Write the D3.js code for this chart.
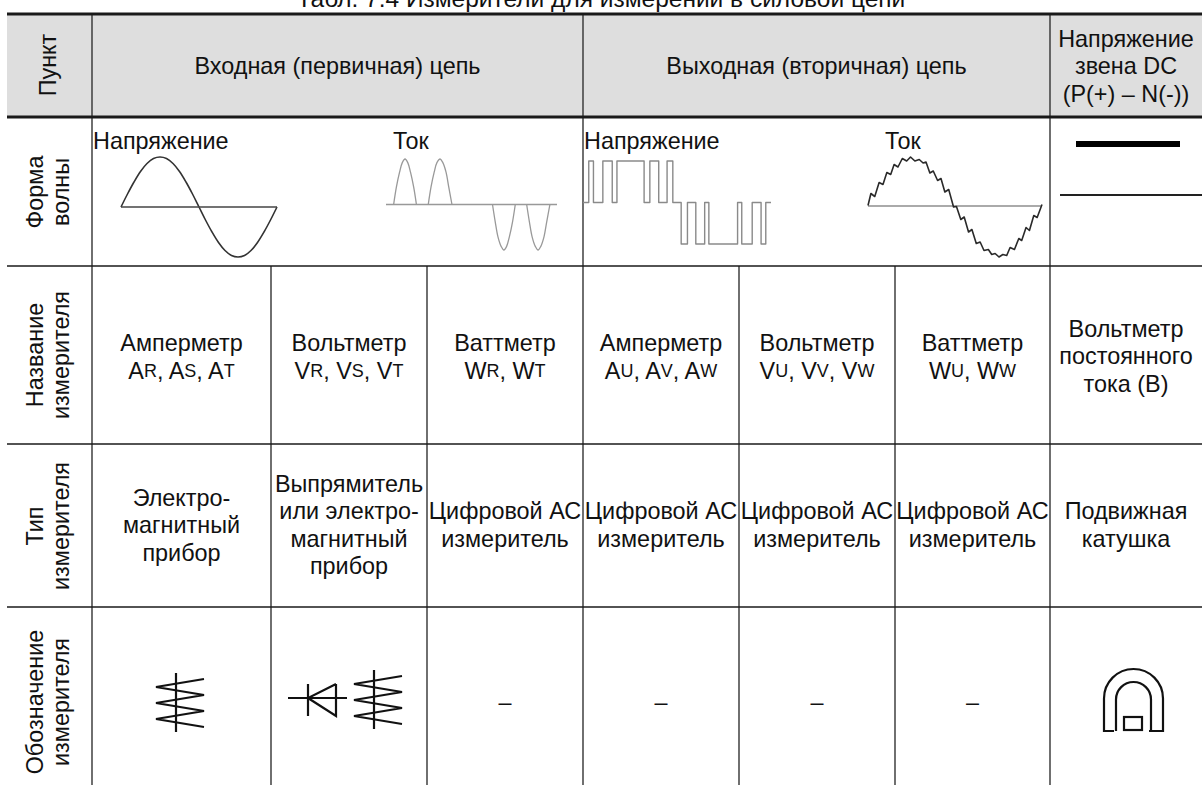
<!DOCTYPE html>
<html>
<head>
<meta charset="utf-8">
<script src="https://cdn.jsdelivr.net/npm/d3@7"></script>
<style>
  html, body { margin: 0; padding: 0; background: #fff; overflow: hidden; }
  text { font-family: "Liberation Sans", Arial, sans-serif; fill: #111; }
</style>
</head>
<body>
<div id="chart"></div>
<script>
// 1: TABLE CONTENT
const title = "Табл. 7.4 Измерители для измерений в силовой цепи";
const headerCells = ["Входная (первичная) цепь", "Выходная (вторичная) цепь"];
const headerLast = ["Напряжение", "звена DC", "(P(+) – N(-))"];
const rowLabels = [
    ["Пункт"],
    ["Форма", "волны"],
    ["Название", "измерителя"],
    ["Тип", "измерителя"],
    ["Обозначение", "измерителя"]
];
const meterNames = [
    ["Амперметр"], ["Вольтметр"], ["Ваттметр"],
    ["Амперметр"], ["Вольтметр"], ["Ваттметр"],
    ["Вольтметр", "постоянного", "тока (В)"]
];
// [letter, small letter] pairs for the second line under the meter name
const meterSymbols = [
    [["A", "R"], ["A", "S"], ["A", "T"]],
    [["V", "R"], ["V", "S"], ["V", "T"]],
    [["W", "R"], ["W", "T"]],
    [["A", "U"], ["A", "V"], ["A", "W"]],
    [["V", "U"], ["V", "V"], ["V", "W"]],
    [["W", "U"], ["W", "W"]],
    null
];
const meterTypes = [
    ["Электро-", "магнитный", "прибор"],
    ["Выпрямитель", "или электро-", "магнитный", "прибор"],
    ["Цифровой АС", "измеритель"],
    ["Цифровой АС", "измеритель"],
    ["Цифровой АС", "измеритель"],
    ["Цифровой АС", "измеритель"],
    ["Подвижная", "катушка"]
];
const waveLabels = ["Напряжение", "Ток", "Напряжение", "Ток"];
const dash = "–";

// 2: WAVEFORM VALUES (phase in degrees, level in % of peak)
const inVoltPhase = [0, 15, 30, 45, 60, 75, 90, 105, 120, 135, 150, 165, 180, 195, 210, 225, 240, 255, 270, 285, 300, 315, 330, 345, 360];
const inVoltLevel = [0, 26, 50, 71, 87, 97, 100, 97, 87, 71, 50, 26, 0, -26, -50, -71, -87, -97, -100, -97, -87, -71, -50, -26, 0];
// phase and level of each current pulse
const inCurrentPhase = [
    [8, 14, 21, 27, 33, 39, 45, 52, 58],
    [84, 90, 97, 103, 110, 116, 123, 129, 136],
    [225, 231, 237, 244, 250, 256, 262, 269, 275],
    [300, 306, 312, 319, 325, 331, 338, 344, 351]
];
const inCurrentLevel = [
    [0, 38, 71, 92, 100, 92, 71, 38, 0],
    [0, 38, 71, 92, 100, 92, 71, 38, 0],
    [0, -38, -71, -92, -100, -92, -71, -38, 0],
    [0, -38, -71, -92, -100, -92, -71, -38, 0]
];
const outVoltEdges = [11, 20, 38, 56, 65, 117, 128, 145, 161, 172, 188, 200, 216, 233, 241, 296, 304, 324, 341, 350];
const outCurrentPhase = [0, 6, 14, 23, 31, 39, 47, 54, 62, 71, 80, 88, 97, 106, 114, 120, 128, 135, 144, 151, 159, 167, 177, 183, 192, 199, 208, 215, 224, 232, 240, 249, 256, 263, 271, 279, 287, 294, 303, 312, 318, 327, 334, 343, 350, 360];
const outCurrentLevel = [1, 25, 19, 47, 43, 67, 63, 83, 78, 95, 90, 98, 90, 93, 86, 88, 66, 70, 51, 55, 28, 33, -2, -1, -27, -22, -52, -47, -75, -72, -89, -87, -97, -95, -102, -97, -99, -83, -87, -65, -69, -43, -49, -19, -23, 3];

// 3: LAYOUT
const width = 1202, height = 787;
const colEdges = [92, 271, 427, 583, 739, 895, 1050, 1202];
const rowEdges = [14, 117, 266, 444, 607, 787];
const left = 7;
const fontSize = 23.4;
const smallSize = 18;
const lineGap = 27.5;

const svg = d3.select("#chart")
    .append("svg")
    .attr("width", width)
    .attr("height", height)
    .style("display", "block");

// 4: HEADER BAND AND GRID
svg.append("rect")
    .attr("x", left).attr("y", rowEdges[0])
    .attr("width", width - left).attr("height", rowEdges[1] - rowEdges[0])
    .attr("fill", "#dedede");

const hLine = (y, w) => svg.append("line")
    .attr("x1", left).attr("x2", width).attr("y1", y).attr("y2", y)
    .attr("stroke", "#1a1a1a").attr("stroke-width", w);
const vLine = (x, y0) => svg.append("line")
    .attr("x1", x).attr("x2", x).attr("y1", y0).attr("y2", 785)
    .attr("stroke", "#333").attr("stroke-width", 1.4);

[colEdges[0], colEdges[3], colEdges[6]].forEach(x => vLine(x, rowEdges[0]));
[colEdges[1], colEdges[2], colEdges[4], colEdges[5]].forEach(x => vLine(x, rowEdges[2]));
hLine(rowEdges[0], 3);
hLine(rowEdges[1], 3);
rowEdges.slice(2, 5).forEach(y => hLine(y, 1.6));

// 5: TEXT
const centerText = (x, y, str) => svg.append("text")
    .attr("x", x).attr("y", y)
    .attr("text-anchor", "middle")
    .attr("dominant-baseline", "central")
    .style("font-size", fontSize + "px")
    .text(str);

const stack = (x, cy, lines) => lines.forEach((s, i) =>
    centerText(x, cy + (i - (lines.length - 1) / 2) * lineGap, s));

const colMid = i => (colEdges[i] + colEdges[i + 1]) / 2;

// the title is cut by the top edge in the source picture too
svg.append("text")
    .attr("x", 601).attr("y", 7)
    .attr("text-anchor", "middle")
    .style("font-size", "24.5px")
    .text(title);

centerText((colEdges[0] + colEdges[3]) / 2, 66, headerCells[0]);
centerText((colEdges[3] + colEdges[6]) / 2, 66, headerCells[1]);
stack(colMid(6), 66, headerLast);

// rotated row labels
const rowLabelY = [65, 192, 355, 526, 702];
rowLabels.forEach((lines, r) => {
    const xs = lines.length === 1 ? [56] : [43, 69];
    lines.forEach((s, i) => {
        svg.append("text")
            .attr("transform", `translate(${xs[i]},${rowLabelY[r]}) rotate(-90)`)
            .attr("text-anchor", "middle")
            .style("font-size", fontSize + "px")
            .text(s);
    });
});

// meter names with small second letters
meterNames.forEach((lines, i) => {
    const syms = meterSymbols[i];
    const cy = syms ? 343 : 356;
    if (!syms) { stack(colMid(i), cy, lines); return; }
    centerText(colMid(i), cy, lines[0]);
    const t = centerText(colMid(i), cy + 28, null);
    syms.forEach((p, k) => {
        t.append("tspan").text(p[0]);
        t.append("tspan").style("font-size", smallSize + "px").text(p[1]);
        if (k < syms.length - 1) t.append("tspan").text(", ");
    });
});

meterTypes.forEach((lines, i) => stack(colMid(i), 525, lines));

[2, 3, 4, 5].forEach(i => centerText(colMid(i), 702, dash));

// wave labels
const waveLabelX = [93, 393, 584, 885];
waveLabels.forEach((s, i) => {
    svg.append("text")
        .attr("x", waveLabelX[i]).attr("y", 141)
        .attr("dominant-baseline", "central")
        .style("font-size", fontSize + "px")
        .text(s);
});

// 6: WAVEFORMS
function panel(x0, x1, yAxis, up, down) {
    return {
        x: d3.scaleLinear().domain([0, 360]).range([x0, x1]),
        y: d3.scaleLinear().domain([-100, 100]).range([yAxis + down, yAxis - up])
    };
}
const drawPath = (d, color, w) => svg.append("path")
    .attr("d", d).attr("fill", "none")
    .attr("stroke", color).attr("stroke-width", w)
    .attr("stroke-linejoin", "round");

// primary voltage
const p1 = panel(121, 277, 207, 50, 50);
drawPath(d3.line().x(d => p1.x(d[0])).y(d => p1.y(d[1])).curve(d3.curveCatmullRom)(d3.zip(inVoltPhase, inVoltLevel)), "#333", 1.6);
drawPath(d3.line()([[p1.x(0), p1.y(0)], [p1.x(360), p1.y(0)]]), "#444", 1.6);

// primary current
const p2 = panel(390, 554, 204, 45, 46);
drawPath(d3.line()([[386, p2.y(0)], [557, p2.y(0)]]), "#999", 1.6);
const hump = d3.line().x(d => p2.x(d[0])).y(d => p2.y(d[1])).curve(d3.curveCatmullRom);
inCurrentPhase.forEach((ph, i) => drawPath(hump(d3.zip(ph, inCurrentLevel[i])), "#999", 1.3));

// secondary voltage pulse train
const p3 = panel(583, 771, 203, 42, 41);
const pulsePoints = [[0, 0]];
outVoltEdges.forEach((e, i) => {
    const lvl = i < 10 ? 100 : -100;
    if (i % 2 === 0) pulsePoints.push([e, 0], [e, lvl]);
    else pulsePoints.push([e, lvl], [e, 0]);
});
pulsePoints.push([360, 0]);
drawPath(d3.line().x(d => p3.x(d[0])).y(d => p3.y(d[1]))(pulsePoints), "#8a8a8a", 1.4);

// secondary current
const p4 = panel(868, 1042, 206, 50, 50);
drawPath(d3.line()([[p4.x(0), p4.y(0)], [p4.x(360), p4.y(0)]]), "#aaa", 1.8);
drawPath(d3.line().x(d => p4.x(d[0])).y(d => p4.y(d[1]))(d3.zip(outCurrentPhase, outCurrentLevel)), "#2a2a2a", 1.6);

// DC link
svg.append("line").attr("x1", 1076).attr("x2", 1180).attr("y1", 144).attr("y2", 144)
    .attr("stroke", "#000").attr("stroke-width", 6);
svg.append("line").attr("x1", 1060).attr("x2", 1202).attr("y1", 195).attr("y2", 195)
    .attr("stroke", "#222").attr("stroke-width", 2);

// 7: METER SYMBOLS
const coilZig = [[28, 3], [-20, 11], [28, 19], [-20, 27], [28, 35], [-20, 43], [28, 51]];
function coil(cx, top) {
    const g = svg.append("g").attr("transform", `translate(${cx},${top})`);
    g.append("path").attr("d", d3.line()(coilZig))
        .attr("fill", "none").attr("stroke", "#111").attr("stroke-width", 2.2);
    g.append("line").attr("x1", 0).attr("x2", 0).attr("y1", -3).attr("y2", 56)
        .attr("stroke", "#111").attr("stroke-width", 2.2);
}
coil(176, 676);
coil(374, 673);

// diode
const diode = svg.append("g").attr("transform", "translate(308,698)")
    .attr("fill", "none").attr("stroke", "#111").attr("stroke-width", 2.2);
diode.append("path").attr("d", d3.line()([[-20, 0], [39, 0]]));
diode.append("path").attr("d", d3.line()([[0, -14], [0, 18]]));
diode.append("path").attr("d", d3.line()([[28, -14], [0, 0], [28, 18], [28, -14]]));

// moving coil magnet
const mag = svg.append("g").attr("fill", "none").attr("stroke", "#111").attr("stroke-width", 2.2);
const magnet = d3.path();
magnet.moveTo(1114, 731);
magnet.lineTo(1104, 731);
magnet.lineTo(1104, 698.5);
magnet.arc(1133.5, 698.5, 29.5, Math.PI, 0);
magnet.lineTo(1163, 731);
magnet.lineTo(1149, 731);
magnet.lineTo(1151, 731);
magnet.lineTo(1151, 699.5);
magnet.arc(1133.5, 699.5, 17.5, 0, Math.PI, true);
magnet.lineTo(1116, 731);
mag.append("path").attr("d", magnet.toString());
mag.append("rect").attr("x", 1124).attr("y", 717).attr("width", 18).attr("height", 13);
</script>
</body>
</html>
